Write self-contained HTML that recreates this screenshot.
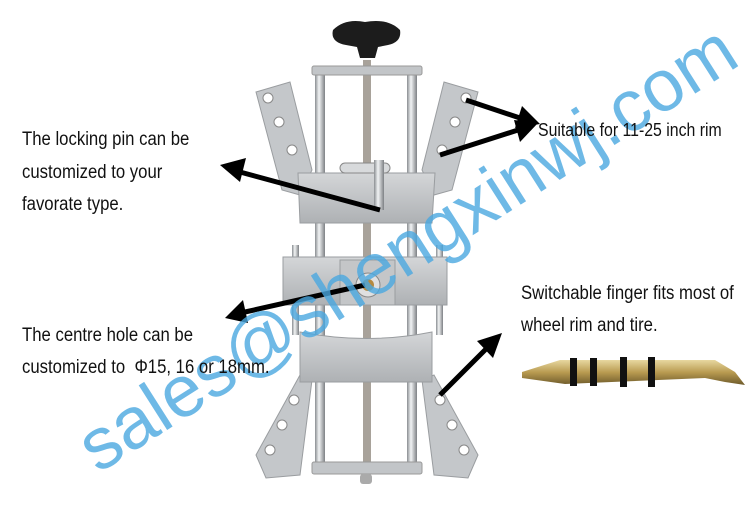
<!DOCTYPE html>
<html><head><style>
body{margin:0;background:#fff;}
.w{position:relative;width:750px;height:509px;overflow:hidden;background:#fff;font-family:"Liberation Sans",sans-serif;}
.t{position:absolute;color:#111;font-size:19px;white-space:nowrap;transform-origin:0 0;transform:scaleX(0.88);}
</style></head><body><div class="w">
<svg width="750" height="509" style="position:absolute;left:0;top:0">
<defs>
<linearGradient id="rod" x1="0" x2="1"><stop offset="0" stop-color="#8a8e92"/><stop offset=".4" stop-color="#f2f4f5"/><stop offset="1" stop-color="#7d8084"/></linearGradient>
<linearGradient id="gr" x1="0" y1="0" x2="0" y2="1"><stop offset="0" stop-color="#d4d6d8"/><stop offset="1" stop-color="#aeb1b4"/></linearGradient>
<linearGradient id="brass" x1="0" y1="0" x2="0" y2="1"><stop offset="0" stop-color="#e8d8a0"/><stop offset=".5" stop-color="#b89a50"/><stop offset="1" stop-color="#6d5a2a"/></linearGradient>
</defs>
<polygon points="256,92 290,82 312,170 300,195 282,190" fill="#c4c7ca" stroke="#9a9da0"/>
<polygon points="478,92 444,82 422,170 434,195 452,190" fill="#c4c7ca" stroke="#9a9da0"/>
<polygon points="256,455 300,375 312,380 300,475 266,478" fill="#c4c7ca" stroke="#9a9da0"/>
<polygon points="478,455 434,375 422,380 434,475 468,478" fill="#c4c7ca" stroke="#9a9da0"/>
<g fill="#fff" stroke="#888">
<circle cx="268" cy="98" r="5"/><circle cx="279" cy="122" r="5"/><circle cx="292" cy="150" r="5"/>
<circle cx="466" cy="98" r="5"/><circle cx="455" cy="122" r="5"/><circle cx="442" cy="150" r="5"/>
<circle cx="294" cy="400" r="5"/><circle cx="282" cy="425" r="5"/><circle cx="270" cy="450" r="5"/>
<circle cx="440" cy="400" r="5"/><circle cx="452" cy="425" r="5"/><circle cx="464" cy="450" r="5"/>
</g>
<rect x="315" y="70" width="10" height="400" fill="url(#rod)"/>
<rect x="407" y="70" width="10" height="400" fill="url(#rod)"/>
<rect x="363" y="60" width="8" height="410" fill="#a8a29a"/>
<rect x="292" y="245" width="7" height="90" fill="url(#rod)"/>
<rect x="436" y="245" width="7" height="90" fill="url(#rod)"/>
<rect x="312" y="66" width="110" height="9" rx="2" fill="#c2c5c8" stroke="#999"/>
<rect x="312" y="462" width="110" height="12" rx="2" fill="#c2c5c8" stroke="#999"/>
<rect x="360" y="474" width="12" height="10" rx="3" fill="#aaa"/>
<path d="M333,30 Q345,18 365,22 Q388,18 400,30 Q402,42 388,45 L378,47 L375,58 L360,58 L357,47 L346,45 Q330,42 333,30Z" fill="#1c1c1c"/>
<path d="M298,173 L435,173 L432,223 L300,223Z" fill="url(#gr)" stroke="#9a9da0"/>
<rect x="340" y="163" width="50" height="10" rx="5" fill="#d8dadc" stroke="#888"/>
<rect x="374" y="160" width="10" height="50" fill="url(#rod)"/>
<rect x="283" y="257" width="164" height="48" fill="url(#gr)" stroke="#9a9da0"/>
<rect x="340" y="260" width="55" height="45" fill="#c4c6c8" stroke="#9a9da0"/>
<circle cx="368" cy="285" r="12" fill="#e0e0e0" stroke="#888"/><circle cx="368" cy="285" r="6" fill="#b58a40"/>
<path d="M300,332 Q367,345 432,332 L432,382 L300,382Z" fill="url(#gr)" stroke="#9a9da0"/>
<g stroke="#000" stroke-width="5" fill="#000">
<line x1="380" y1="210" x2="240" y2="172"/><polygon points="220,165 246,158 240,182" stroke="none"/>
<line x1="466" y1="100" x2="520" y2="118"/><polygon points="540,124 515,128 522,106" stroke="none"/>
<line x1="440" y1="155" x2="518" y2="130"/><polygon points="538,123 520,142 514,120" stroke="none"/>
<line x1="365" y1="285" x2="245" y2="312"/><polygon points="225,318 243,300 248,323" stroke="none"/>
<line x1="440" y1="395" x2="487" y2="348"/><polygon points="502,333 493,358 477,341" stroke="none"/>
</g>
<path d="M522,372 L560,360 L715,360 L735,372 L745,385 L725,382 L705,378 L565,384 L522,378Z" fill="url(#brass)"/>
<g fill="#111"><rect x="570" y="358" width="7" height="28"/><rect x="590" y="358" width="7" height="28"/><rect x="620" y="357" width="7" height="30"/><rect x="648" y="357" width="7" height="30"/></g>
<text x="98" y="474" transform="rotate(-32.5 98 474)" font-family="Liberation Sans" font-size="73" fill="#4aa8e0" fill-opacity=".8">sales@shengxinwj.com</text>
</svg>
<div class="t" style="left:22px;top:129px">The locking pin can be</div>
<div class="t" style="left:22px;top:162px">customized to your</div>
<div class="t" style="left:22px;top:194px">favorate type.</div>
<div class="t" style="left:538px;top:120px;font-size:18px">Suitable for 11-25 inch rim</div>
<div class="t" style="left:521px;top:283px">Switchable finger fits most of</div>
<div class="t" style="left:521px;top:315px">wheel rim and tire.</div>
<div class="t" style="left:22px;top:325px">The centre hole can be</div>
<div class="t" style="left:22px;top:357px">customized to &nbsp;Φ15, 16 or 18mm.</div>
</div></body></html>
